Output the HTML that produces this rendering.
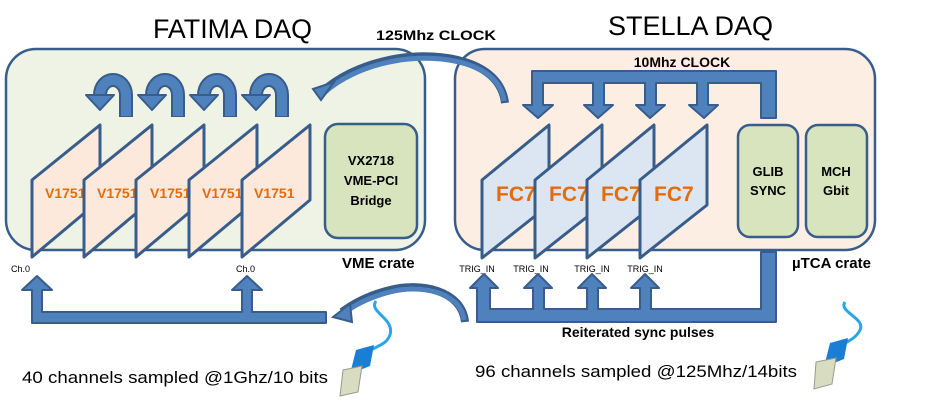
<!DOCTYPE html>
<html><head><meta charset="utf-8"><style>
html,body{margin:0;padding:0;background:#fff;}
svg{display:block;font-family:"Liberation Sans",sans-serif;}
</style></head><body>
<svg width="925" height="406" viewBox="0 0 925 406" xmlns="http://www.w3.org/2000/svg">
<defs>
<g id="uturn">
  <path d="M126,117 V95 A13,15 0 0 0 100,95 V97" fill="none" stroke="#385d8a" stroke-width="14"/>
  <path d="M126,116 V95 A13,15 0 0 0 100,95 V98" fill="none" stroke="#4f81bd" stroke-width="10"/>
  <polygon points="86,95 114,95 100,110" fill="#4f81bd" stroke="#385d8a" stroke-width="2" stroke-linejoin="round"/>
</g>
<polygon id="v" points="32,180 100,125 100,200 32,257" fill="#fce9db" stroke="#385d8a" stroke-width="3" stroke-linejoin="round"/>
<polygon id="f" points="482,180 549,125 549,205 482,258" fill="#dce6f2" stroke="#385d8a" stroke-width="3" stroke-linejoin="round"/>
</defs>

<text x="153" y="38" font-size="27" textLength="159" lengthAdjust="spacingAndGlyphs">FATIMA DAQ</text>
<text x="608" y="35" font-size="27" textLength="165" lengthAdjust="spacingAndGlyphs">STELLA DAQ</text>
<text x="376" y="40" font-size="14" font-weight="bold" textLength="120" lengthAdjust="spacingAndGlyphs">125Mhz CLOCK</text>

<rect x="6" y="49" width="419" height="201" rx="30" fill="#eef3e6" stroke="#385d8a" stroke-width="2.5"/>
<rect x="455" y="49" width="420" height="201" rx="30" fill="#fdeee4" stroke="#385d8a" stroke-width="2.5"/>

<path d="M505,103 C500,60 440,52 400,58 C360,64 335,80 322,92" fill="none" stroke="#385d8a" stroke-width="8"/>
<path d="M504,101 C499,62 440,54 400,60 C362,66 337,81 324,93" fill="none" stroke="#4f81bd" stroke-width="5"/>
<polygon points="313,89 334,82 321,100" fill="#4f81bd" stroke="#385d8a" stroke-width="2"/>

<use href="#uturn"/>
<use href="#uturn" transform="translate(52,0)"/>
<use href="#uturn" transform="translate(104,0)"/>
<use href="#uturn" transform="translate(156,0)"/>

<g font-size="14" font-weight="bold" fill="#e46c0a">
<use href="#v"/><text x="45" y="198">V1751</text>
<use href="#v" transform="translate(52,0)"/><text x="97" y="198">V1751</text>
<use href="#v" transform="translate(104,0)"/><text x="150" y="198">V1751</text>
<use href="#v" transform="translate(157,0)"/><text x="202" y="198">V1751</text>
<use href="#v" transform="translate(210,0)"/><text x="254" y="198">V1751</text>
</g>
<rect x="325" y="124" width="92" height="114" rx="13" fill="#d7e4bd" stroke="#385d8a" stroke-width="2.5"/>
<g font-size="13" font-weight="bold" text-anchor="middle">
<text x="371" y="165">VX2718</text><text x="371" y="185">VME-PCI</text><text x="371" y="205">Bridge</text>
</g>
<text x="342" y="268" font-size="15" font-weight="bold">VME crate</text>
<text x="11" y="272" font-size="9">Ch.0</text>
<text x="236" y="272" font-size="9">Ch.0</text>

<path d="M32,323 V290 H22 L37,276 L52,290 H42 V312 H242 V290 H232 L247,276 L262,290 H252 V312 H326 V323 Z" fill="#4f81bd" stroke="#385d8a" stroke-width="2" stroke-linejoin="round"/>

<path d="M465,322 C462,290 420,282 390,290 C365,296 350,306 342,312" fill="none" stroke="#385d8a" stroke-width="8"/>
<path d="M464,320 C461,292 420,284 390,292 C366,298 352,307 344,313" fill="none" stroke="#4f81bd" stroke-width="5"/>
<polygon points="333,317 350,304 352,322" fill="#4f81bd" stroke="#385d8a" stroke-width="2"/>

<path d="M532,83 V105 H523 L538,118 L553,105 H543 V83 H593 V105 H584 L598,118 L613,105 H604 V83 H645 V105 H636 L650,118 L665,105 H656 V83 H697 V105 H689 L704,118 L718,105 H708 V83 H761 V118 H776 V71 H532 Z" fill="#4f81bd" stroke="#385d8a" stroke-width="2" stroke-linejoin="round"/>
<text x="682" y="67" font-size="14" font-weight="bold" text-anchor="middle">10Mhz CLOCK</text>

<g font-size="21" font-weight="bold" fill="#e46c0a">
<use href="#f"/><text x="496" y="201">FC7</text>
<use href="#f" transform="translate(53,0)"/><text x="549" y="201">FC7</text>
<use href="#f" transform="translate(105,0)"/><text x="601" y="201">FC7</text>
<use href="#f" transform="translate(158,0)"/><text x="654" y="201">FC7</text>
</g>
<rect x="738" y="125" width="60" height="112" rx="12" fill="#d7e4bd" stroke="#385d8a" stroke-width="2.5"/>
<rect x="806" y="125" width="61" height="112" rx="12" fill="#d7e4bd" stroke="#385d8a" stroke-width="2.5"/>
<g font-size="13" font-weight="bold" text-anchor="middle">
<text x="768" y="176">GLIB</text><text x="768" y="195">SYNC</text>
<text x="836" y="176">MCH</text><text x="836" y="195">Gbit</text>
</g>
<text x="792" y="268" font-size="15" font-weight="bold">µTCA crate</text>

<g font-size="9" text-anchor="middle">
<text x="477" y="272">TRIG_IN</text><text x="531" y="272">TRIG_IN</text>
<text x="592" y="272">TRIG_IN</text><text x="645" y="272">TRIG_IN</text>
</g>

<path d="M477,322 V288 H470 L484,274 L498,288 H490 V309 H533 V288 H524 L538,274 L552,288 H544 V309 H587 V288 H578 L592,274 L606,288 H598 V309 H640 V288 H631 L645,274 L659,288 H651 V309 H761 V252 H776 V322 Z" fill="#4f81bd" stroke="#385d8a" stroke-width="2" stroke-linejoin="round"/>
<text x="638" y="337" font-size="14" font-weight="bold" text-anchor="middle">Reiterated sync pulses</text>

<g>
<path d="M376,301 C368,312 395,318 390,335 C386,345 378,345 368,352" fill="none" stroke="#2aa6e8" stroke-width="3"/>
<polygon points="356,350 374,345 370,366 350,374" fill="#1a7fd4"/>
<polygon points="343,370 362,366 358,392 340,396" fill="#d8dcc0" stroke="#9a9a8a" stroke-width="1"/>
<path d="M845,302 C838,312 866,318 860,330 C856,338 850,340 842,345" fill="none" stroke="#2aa6e8" stroke-width="3"/>
<polygon points="830,343 848,338 844,359 824,367" fill="#1a7fd4"/>
<polygon points="816,362 836,358 832,384 814,389" fill="#d8dcc0" stroke="#9a9a8a" stroke-width="1"/>
</g>

<text x="22" y="383" font-size="17" textLength="306" lengthAdjust="spacingAndGlyphs">40 channels sampled @1Ghz/10 bits</text>
<text x="475" y="377" font-size="17" textLength="322" lengthAdjust="spacingAndGlyphs">96 channels sampled @125Mhz/14bits</text>
</svg>
</body></html>
